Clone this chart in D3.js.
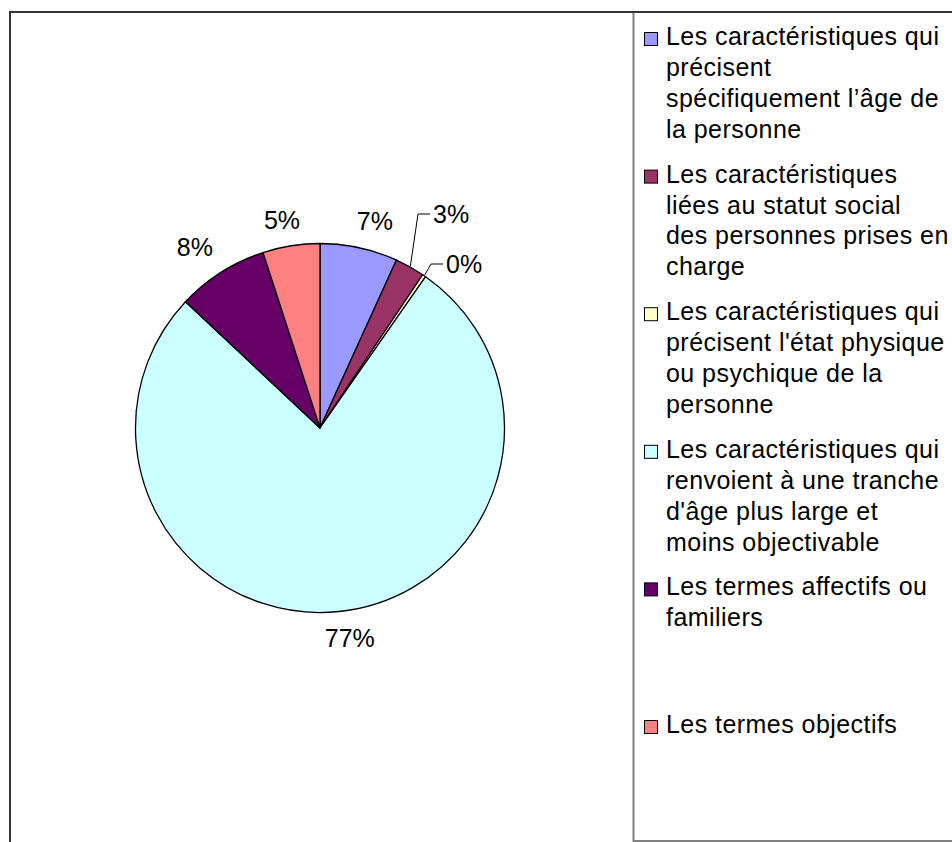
<!doctype html>
<html>
<head>
<meta charset="utf-8">
<script src="https://d3js.org/d3.v7.min.js"></script>
<style>
  body { margin: 0; background: #fff; }
  text { font-family: "Liberation Sans", Arial, sans-serif; fill: #000; }
</style>
</head>
<body>
<svg width="952" height="842"></svg>
<script>
// data
var categories = [
  "Les caractéristiques qui précisent spécifiquement l’âge de la personne",
  "Les caractéristiques liées au statut social des personnes prises en charge",
  "Les caractéristiques qui précisent l'état physique ou psychique de la personne",
  "Les caractéristiques qui renvoient à une tranche d'âge plus large et moins objectivable",
  "Les termes affectifs ou familiers",
  "Les termes objectifs"
];
var legendLines = [
  ["Les caractéristiques qui", "précisent", "spécifiquement l’âge de", "la personne"],
  ["Les caractéristiques", "liées au statut social", "des personnes prises en", "charge"],
  ["Les caractéristiques qui", "précisent l'état physique", "ou psychique de la", "personne"],
  ["Les caractéristiques qui", "renvoient à une tranche", "d'âge plus large et", "moins objectivable"],
  ["Les termes affectifs ou", "familiers"],
  ["Les termes objectifs"]
];
var values = [6.8, 2.6, 0.3, 77.3, 8.0, 5.0];
var pctLabels = ["7%", "3%", "0%", "77%", "8%", "5%"];
var colors = ["#9999FF", "#993366", "#FFFFCC", "#CCFFFF", "#660066", "#FF8080"];

// layout
var svg = d3.select("svg");
var cx = 320, cy = 428, radius = 184.5;
var fontSize = 25;

// frame
svg.append("rect")
  .attr("x", 10).attr("y", 12)
  .attr("width", 1000).attr("height", 900)
  .attr("fill", "none").attr("stroke", "#333").attr("stroke-width", 2);

// legend box
svg.append("rect")
  .attr("x", 633.5).attr("y", 12)
  .attr("width", 400).attr("height", 829)
  .attr("fill", "#fff").attr("stroke", "#808080").attr("stroke-width", 2);
svg.append("line")
  .attr("x1", 10).attr("x2", 952).attr("y1", 12).attr("y2", 12)
  .attr("stroke", "#333").attr("stroke-width", 2);

var pie = d3.pie().sort(null).value(d => d);
var arcs = pie(values);
var arc = d3.arc().innerRadius(0).outerRadius(radius);

var g = svg.append("g").attr("transform", "translate(" + cx + "," + cy + ")");

g.selectAll("path.slice")
  .data(arcs)
  .enter().append("path")
  .attr("class", "slice")
  .attr("d", arc)
  .attr("fill", (d, i) => colors[i])
  .attr("stroke", "#000")
  .attr("stroke-width", 1.3)
  .attr("stroke-linejoin", "round");

// labels (small slices get a leader line)
var leaderPos = { 1: [113, -214], 2: [126, -164] };
var nudgeX = [10, 0, 0, 8, -10, -5];
var R0 = 199;

arcs.forEach(function(d, i) {
  var a = (d.startAngle + d.endAngle) / 2;
  var s = Math.sin(a), c = -Math.cos(a);
  if (leaderPos[i]) {
    var lp = leaderPos[i];
    var sx = (radius + 1) * s, sy = (radius + 1) * c;
    g.append("polyline")
      .attr("points", [[sx, sy], [lp[0] - 15, lp[1]], [lp[0] - 3, lp[1]]].map(p => p.join(",")).join(" "))
      .attr("fill", "none").attr("stroke", "#000").attr("stroke-width", 1);
    g.append("text")
      .attr("x", lp[0]).attr("y", lp[1])
      .attr("dominant-baseline", "central")
      .style("font-size", fontSize + "px")
      .text(pctLabels[i]);
  } else {
    var w = pctLabels[i].length * fontSize * 0.56, h = fontSize * 0.8;
    var r = R0 + Math.abs(s) * w / 2 + Math.abs(c) * h / 2;
    g.append("text")
      .attr("x", r * s + nudgeX[i]).attr("y", r * c)
      .attr("text-anchor", "middle")
      .attr("dominant-baseline", "central")
      .style("font-size", fontSize + "px")
      .text(pctLabels[i]);
  }
});

// legend
var itemY = d3.scaleLinear().domain([0, 1]).range([45, 45 + 137.6]);
var lineH = 30.9;
var leg = svg.append("g");
legendLines.forEach(function(lines, i) {
  var y0 = itemY(i);
  leg.append("rect")
    .attr("x", 644.5).attr("y", y0 - 12.5)
    .attr("width", 13).attr("height", 13)
    .attr("fill", colors[i]).attr("stroke", "#000").attr("stroke-width", 1);
  lines.forEach(function(t, j) {
    leg.append("text")
      .attr("x", 666).attr("y", y0 + j * lineH)
      .style("font-size", fontSize + "px")
      .style("letter-spacing", "0.45px")
      .text(t);
  });
});
</script>
</body>
</html>
